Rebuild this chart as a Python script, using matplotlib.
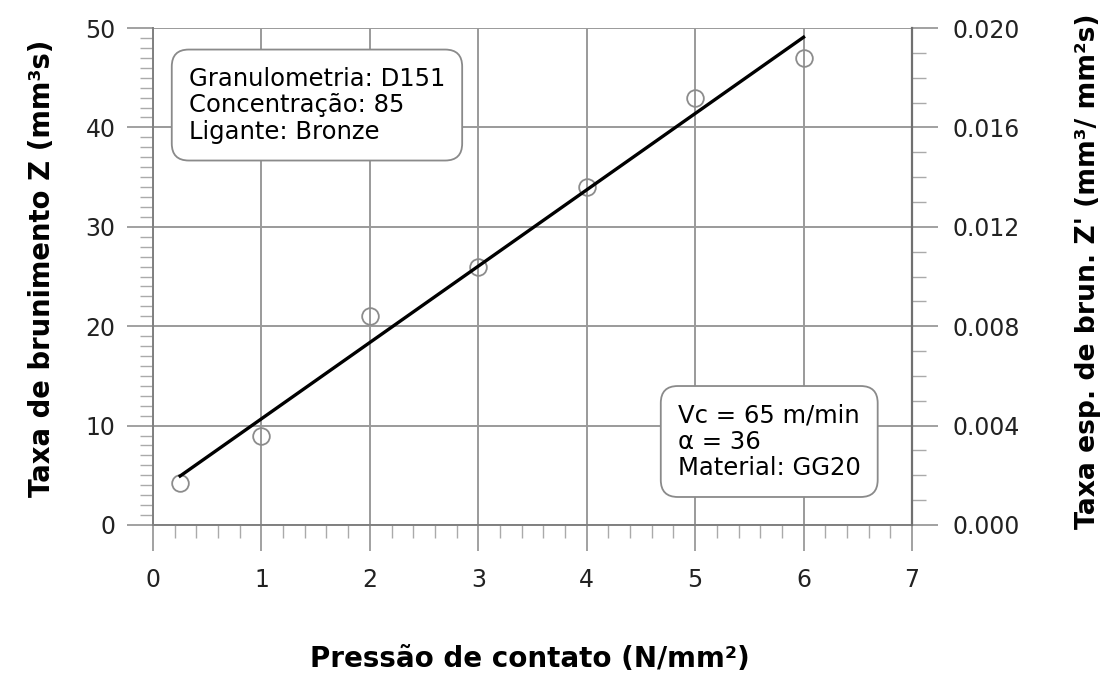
import numpy as np
import matplotlib
matplotlib.use("Agg")
import matplotlib.pyplot as plt
from matplotlib.ticker import MultipleLocator, FormatStrFormatter

plt.rcParams['font.family'] = ['DejaVu Sans']

# measured honing rate vs contact pressure
pressao = [0.25, 1, 2, 3, 4, 5, 6]
taxa_z = [4.2, 9.0, 21.0, 26.0, 34.0, 43.0, 47.0]

box_material = "Granulometria: D151\nConcentração: 85\nLigante: Bronze"
box_processo = "Vc = 65 m/min\nα = 36\nMaterial: GG20"

W, H = 1110, 680
fig = plt.figure(figsize=(W / 100, H / 100), dpi=100)
ax = fig.add_axes([153 / W, 1 - 525 / H, (912 - 153) / W, (525 - 28) / H])

grid_c = '#9a9a9a'
ax.set_xlim(0, 7)
ax.set_ylim(0, 50)
ax.xaxis.set_major_locator(MultipleLocator(1))
ax.xaxis.set_minor_locator(MultipleLocator(0.2))
ax.yaxis.set_major_locator(MultipleLocator(10))
ax.yaxis.set_minor_locator(MultipleLocator(1))
ax.grid(True, which='major', color=grid_c, lw=1.4, zorder=1)
ax.set_axisbelow(True)

# linear regression line through the measurements
k, d = np.polyfit(pressao, taxa_z, 1)
xf = np.array([pressao[0], pressao[-1]])
ax.plot(xf, k * xf + d, color='black', lw=2.4, zorder=4)
ax.plot(pressao, taxa_z, 'o', ms=12, mfc='none', mec='#8c8c8c', mew=1.3, zorder=3)

for s in ['top', 'right']:
    ax.spines[s].set_visible(False)
for s in ['left', 'bottom']:
    ax.spines[s].set_color('#808080')
    ax.spines[s].set_linewidth(1.4)

ax.tick_params(which='major', direction='out', length=19, width=1.3, color=grid_c,
               labelsize=17, labelcolor='#222222')
ax.tick_params(which='minor', direction='out', length=9.5, width=1.0, color='#aaaaaa')
ax.tick_params(axis='x', which='major', pad=12)
ax.tick_params(axis='y', which='major', pad=8)

ax2 = ax.twinx()
ax2.set_ylim(0, 0.020)
ax2.yaxis.set_major_locator(MultipleLocator(0.004))
ax2.yaxis.set_minor_locator(MultipleLocator(0.001))
ax2.yaxis.set_major_formatter(FormatStrFormatter('%.3f'))
for s in ['top', 'left', 'bottom']:
    ax2.spines[s].set_visible(False)
ax2.spines['right'].set_color('#707070')
ax2.spines['right'].set_linewidth(1.6)
ax2.tick_params(which='major', direction='out', length=19, width=1.3, color=grid_c,
                labelsize=17, labelcolor='#222222', pad=10)
ax2.tick_params(which='minor', direction='out', length=10, width=1.0, color='#aaaaaa')

lab = dict(fontweight='bold', ha='center', va='center')
fig.text(530 / W, 1 - 659 / H, 'Pressão de contato (N/mm²)', fontsize=20, **lab)
fig.text(42 / W, 1 - 268 / H, 'Taxa de brunimento Z (mm³s)', fontsize=19.8,
         rotation=90, **lab)
fig.text(1088 / W, 1 - 271 / H, "Taxa esp. de brun. Z' (mm³/ mm²s)", fontsize=19.2,
         rotation=90, **lab)

bbox = dict(boxstyle='round,pad=0.7,rounding_size=0.7', fc='white', ec='#8a8a8a', lw=1.3)
ax.text(0.33, 42.25, box_material, fontsize=17.5, va='center', ha='left',
        linespacing=1.13, bbox=bbox, zorder=5)
ax.text(4.84, 8.4, box_processo, fontsize=17.5, va='center', ha='left',
        linespacing=1.13, bbox=bbox, zorder=5)

fig.savefig('out.png', dpi=100)
